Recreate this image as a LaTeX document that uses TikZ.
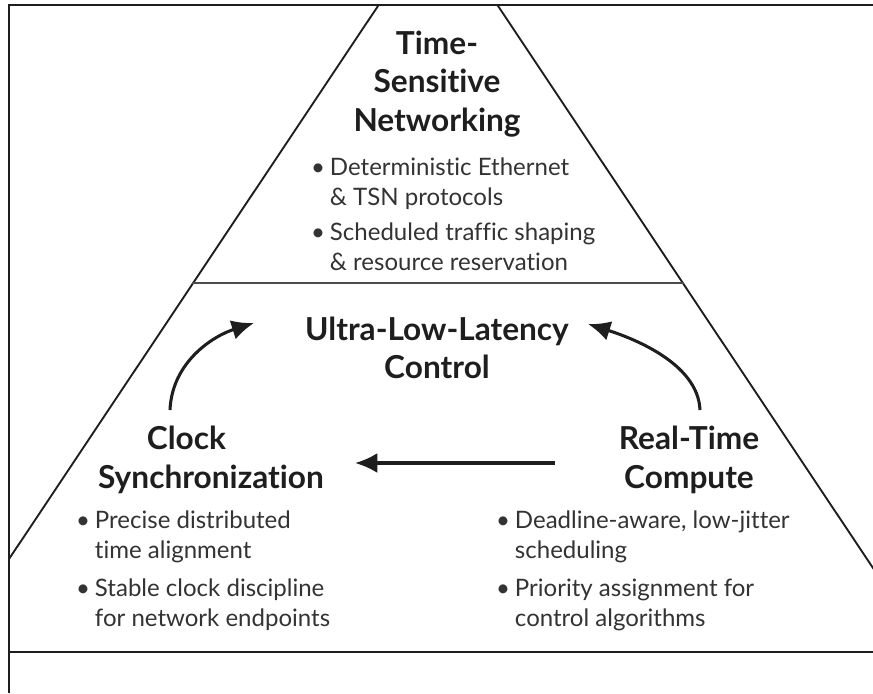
\documentclass[tikz,border=0pt]{standalone}
\usepackage{fontspec}
\setmainfont{Lato}[Ligatures={NoCommon}]
\usetikzlibrary{arrows.meta,calc}
\definecolor{ink}{HTML}{1E1E1E}
\definecolor{txt}{HTML}{333333}
\newcommand{\bul}{\makebox[16pt][l]{\textbullet}}
\newcommand{\ind}{\hspace*{16pt}}
\tikzset{
	head/.style={font=\fontsize{27}{33}\selectfont\bfseries, text=ink, align=center, inner sep=0pt},
	body/.style={font=\fontsize{20.5}{25.5}\selectfont, text=txt, align=left, inner sep=0pt, anchor=north west},
	flow/.style={-{Latex[length=19pt,width=17pt]}, line width=2.6pt, draw=ink},
}
\begin{document}
\begin{tikzpicture}[x=0.03cm,y=-0.03cm]
	\useasboundingbox (0,0) rectangle (873,693);
	
	\begin{scope}
		\clip (9,5) rectangle (873,693);
		\draw[line width=1.6pt, ink] (-29,616)--(438,-84)--(905,616);
	\end{scope}
	\draw[line width=1.2pt, ink!80] (192,283)--(684,283);
	\draw[line width=1.6pt, ink] (9,693)--(9,5)--(873,5);
	\draw[line width=2.5pt, ink] (9,652)--(873,652);
	
	\node[head] (tsn) at (437,84) {Time-\\Sensitive\\Networking};
	\node[body] (tsnlist) at (311,158) {\bul Deterministic Ethernet\\\ind\& TSN protocols\\[4pt]\bul Scheduled traffic shaping\\\ind\& resource reservation};
	
	\node[head] (ullc) at (437,348) {Ultra-Low-Latency\\Control};
	\node[head] (clock) at (211,460) {\hspace*{-42pt}Clock\\Synchronization};
	\node[head] (rtc) at (689,460) {Real-Time\\Compute};
	
	\node[body] (clocklist) at (76,511) {\bul Precise distributed\\\ind time alignment\\[7pt]\bul Stable clock discipline\\\ind for network endpoints};
	\node[body] (rtclist) at (496,511) {\bul Deadline-aware, low-jitter\\\ind scheduling\\[7pt]\bul Priority assignment for\\\ind control algorithms};
	
	\coordinate (clkout) at ($(clock.center)+(-41,-50)$);
	\coordinate (rtcout) at ($(rtc.center)+(11,-50)$);
	\coordinate (ullcl) at ($(ullc.center)+(-183,-25)$);
	\coordinate (ullcr) at ($(ullc.center)+(151,-24)$);
	
	\draw[flow] ($(rtc.center)+(-134,3)$)--($(clock.center)+(144,3)$);
	\draw[flow] (clkout) .. controls +(2,-48) and +(-41,13) .. (ullcl);
	\draw[flow] (rtcout) .. controls +(-2,-48) and +(41,13) .. (ullcr);
\end{tikzpicture}
\end{document}
